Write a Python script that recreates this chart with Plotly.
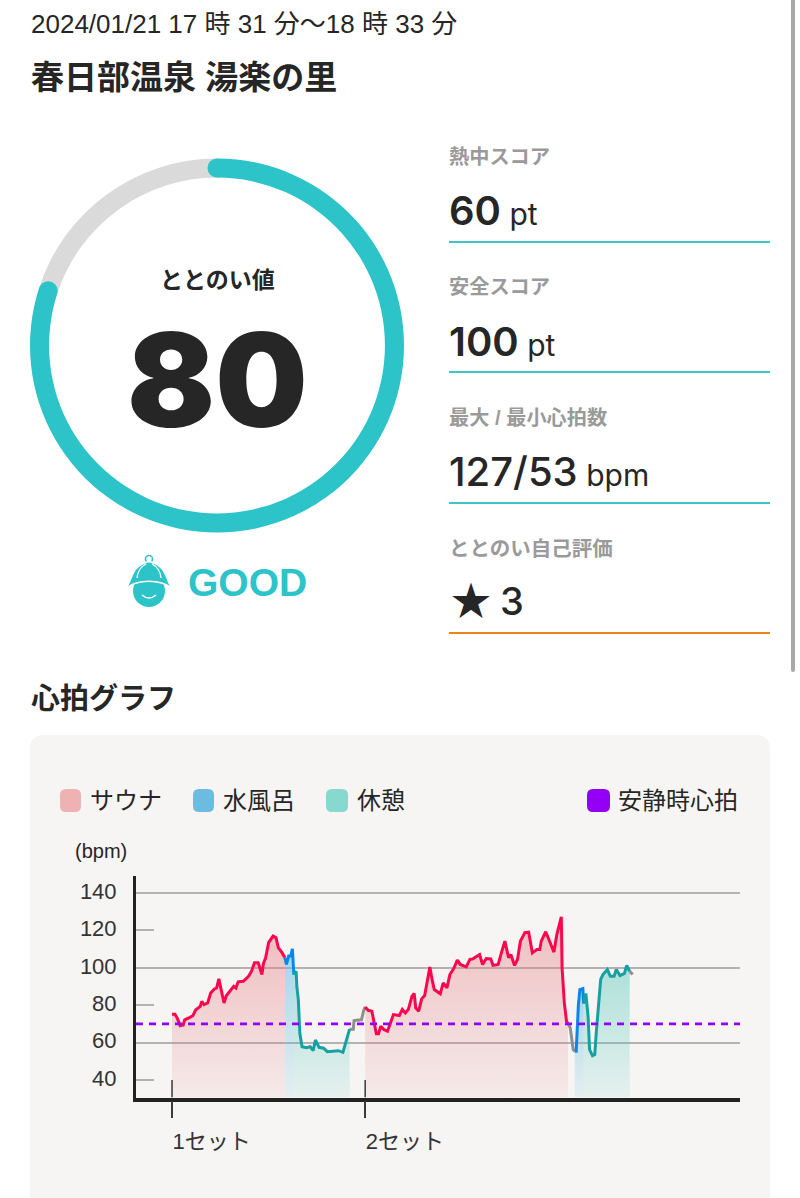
import math

import plotly.graph_objects as go

W, H = 800, 1198
FONT = "Liberation Sans, Noto Sans CJK JP, sans-serif"
NUM_FONT = "Inter, Liberation Sans, sans-serif"
INK = "#262626"
TEAL = "#2cc3c9"

# scores
SCORE = 80
SCORE_MAX = 100
RESTING_BPM = 70
STATS = [
    ("熱中スコア", "60", " pt"),
    ("安全スコア", "100", " pt"),
    ("最大 / 最小心拍数", "127/53", " bpm"),
]
SELF_RATING = "3"

# heart rate, minutes since 17:31
SAUNA1_MIN = [0.0, 0.4, 0.7, 1.1, 1.5, 1.7, 2.4, 2.8, 3.2, 3.8, 4.0, 4.3, 4.8, 5.2, 5.7, 6.0, 6.3, 6.6, 7.0,
              7.3, 7.8, 8.3, 8.6, 8.9, 9.6, 10.3, 10.7, 11.1, 11.6, 12.1, 12.3, 12.6, 13.0, 13.6, 14.0,
              14.3, 14.8, 15.2]
SAUNA1_BPM = [75.2, 75.2, 73.1, 69.1, 69.5, 72.2, 73.5, 74.4, 77.6, 79.4, 82.1, 80.3, 81.2, 86.5, 88.7, 89.2,
              94.1, 89.2, 81.2, 85.1, 87.4, 90.1, 89.2, 92.5, 92.8, 95.5, 98.2, 102.7, 102.7, 96.4, 102.3,
              105.4, 113.5, 117.0, 116.1, 110.8, 108.1, 105.4]
COLD1_MIN = [15.2, 15.4, 15.7, 16.0, 16.2, 16.4]
COLD1_BPM = [105.4, 101.8, 106.3, 106.3, 110.2, 96.4]
REST1_MIN = [16.4, 16.7, 16.8, 17.0, 17.2, 17.5, 18.1, 18.6, 19.0, 19.3, 19.8, 20.4, 20.9, 21.7, 22.4, 23.0,
             23.5, 23.9]
REST1_BPM = [96.4, 98.2, 90.1, 83.0, 65.0, 57.8, 57.3, 57.8, 55.7, 61.4, 57.5, 57.0, 55.2, 55.5, 55.7, 54.8,
             61.4, 67.2]
IDLE1_MIN = [23.9, 24.4, 24.5, 25.5, 25.8, 26.0]
IDLE1_BPM = [67.2, 67.2, 71.8, 72.2, 77.2, 79.1]
SAUNA2_MIN = [26.0, 26.4, 26.9, 27.2, 27.5, 27.8, 28.1, 28.5, 29.0, 29.4, 29.8, 30.6, 31.0, 31.4, 31.8, 32.3,
              32.6, 32.8, 33.2, 33.6, 34.0, 34.4, 34.7, 35.0, 35.3, 36.1, 36.5, 37.0, 37.4, 37.9, 38.4, 38.8,
              39.6, 40.1, 40.5, 41.4, 41.8, 42.3, 42.9, 43.2, 43.9, 44.4, 44.8, 45.3, 45.6, 46.1, 46.5, 46.9,
              47.5, 48.0, 48.5, 49.1, 49.5, 49.7, 50.3, 50.9, 51.4, 51.8, 52.1, 52.4, 52.5, 52.8, 53.1, 53.3]
SAUNA2_BPM = [79.1, 77.3, 76.8, 70.5, 64.8, 64.8, 68.8, 67.0, 66.1, 70.5, 75.0, 74.5, 77.7, 75.9, 77.7, 84.8,
              86.3, 78.6, 76.8, 83.4, 85.2, 93.8, 100.5, 93.8, 88.4, 86.1, 92.0, 89.3, 96.4, 99.5, 104.1, 101.8,
              100.5, 104.5, 104.8, 107.1, 101.8, 105.0, 104.8, 101.3, 101.8, 108.9, 114.3, 105.4, 107.1, 101.3,
              104.5, 114.3, 118.8, 119.1, 108.0, 109.8, 109.8, 114.3, 119.3, 113.4, 108.4, 117.9, 122.3, 127.3,
              100.0, 81.3, 71.4, 70.2]
IDLE2_MIN = [53.3, 53.6, 54.0, 54.2]
IDLE2_BPM = [70.2, 67.9, 56.3, 55.4]
COLD2_MIN = [54.2, 54.4, 54.7, 54.9, 55.3, 55.4]
COLD2_BPM = [55.4, 55.4, 80.4, 88.4, 88.9, 80.9]
REST2_MIN = [55.4, 55.7, 56.0, 56.2, 56.6, 56.9, 57.1, 57.4, 57.7, 58.0, 58.6, 59.0, 59.5, 59.8, 60.3, 60.9,
             61.2, 61.6]
REST2_BPM = [80.9, 86.3, 74.1, 56.3, 53.0, 53.6, 65.2, 81.3, 93.8, 96.4, 99.1, 95.5, 95.5, 99.1, 95.9, 97.0,
             101.3, 98.2]
IDLE3_MIN = [61.6, 62.0]
IDLE3_BPM = [98.2, 96.4]

SET_STARTS = [0.0, 26.0]
SET_LABELS = ["1セット", "2セット"]
Y_TICKS = [40, 60, 80, 100, 120, 140]
Y_GRID = [60, 100, 140]
X_RANGE = [-4.85, 76.45]
Y_RANGE = [30.67, 149.1]

SAUNA_LINE, COLD_LINE, REST_LINE, IDLE_LINE = "#f9084f", "#0a86ea", "#17a0a2", "#8f8f8f"
SAUNA_FILL = ("rgba(232,125,130,0.46)", "rgba(232,125,130,0.09)")
COLD_FILL = ("rgba(105,190,225,0.58)", "rgba(105,190,225,0.12)")
REST_FILL = ("rgba(85,200,185,0.46)", "rgba(85,200,185,0.10)")


def page_text(x, y, text, size, color=INK, anchor="left", bold=False, family=FONT, weight=None):
    font = dict(family=family, size=size, color=color)
    if weight:
        font["weight"] = weight
    return dict(
        x=x, y=y, xref="x", yref="y", text=f"<b>{text}</b>" if bold else text,
        showarrow=False, xanchor=anchor, yanchor="middle", borderpad=0, borderwidth=0, font=font,
    )


def rounded(x0, y0, x1, y1, r):
    return (f"M{x0+r},{y0} L{x1-r},{y0} Q{x1},{y0} {x1},{y0+r} L{x1},{y1-r} Q{x1},{y1} {x1-r},{y1} "
            f"L{x0+r},{y1} Q{x0},{y1} {x0},{y1-r} L{x0},{y0+r} Q{x0},{y0} {x0+r},{y0} Z")


def path_shape(path, color, layer="below"):
    return dict(type="path", xref="x", yref="y", path=path, fillcolor=color, line_width=0, layer=layer)


def area(minutes, bpm, colors):
    # closed polygon down to the axis, so the gradient stops at the axis
    return go.Scatter(
        x=minutes + [minutes[-1], minutes[0]], y=bpm + [Y_RANGE[0], Y_RANGE[0]],
        xaxis="x2", yaxis="y2", mode="none", fill="toself", hoverinfo="skip",
        fillgradient=dict(type="vertical", colorscale=[[0, colors[1]], [1, colors[0]]]),
    )


def hr_line(minutes, bpm, color):
    return go.Scatter(
        x=minutes, y=bpm, xaxis="x2", yaxis="y2", mode="lines",
        line=dict(color=color, width=3),
    )


fig = go.Figure()

# ring
fig.add_trace(go.Pie(
    values=[SCORE, SCORE_MAX - SCORE], sort=False, direction="clockwise", rotation=0, hole=0.898,
    marker=dict(colors=[TEAL, "#dadada"], line=dict(width=0)), textinfo="none", hoverinfo="skip",
    domain=dict(x=[30 / W, 404 / W], y=[1 - 533 / H, 1 - 158 / H]),
))

# heart rate chart
for m, b, c in [(SAUNA1_MIN, SAUNA1_BPM, SAUNA_FILL), (COLD1_MIN, COLD1_BPM, COLD_FILL),
                (REST1_MIN, REST1_BPM, REST_FILL), (SAUNA2_MIN, SAUNA2_BPM, SAUNA_FILL),
                (COLD2_MIN, COLD2_BPM, COLD_FILL), (REST2_MIN, REST2_BPM, REST_FILL)]:
    fig.add_trace(area(m, b, c))

for m, b, c in [(IDLE1_MIN, IDLE1_BPM, IDLE_LINE), (IDLE2_MIN, IDLE2_BPM, IDLE_LINE), (IDLE3_MIN, IDLE3_BPM, IDLE_LINE),
                (SAUNA1_MIN, SAUNA1_BPM, SAUNA_LINE), (COLD1_MIN, COLD1_BPM, COLD_LINE),
                (REST1_MIN, REST1_BPM, REST_LINE), (SAUNA2_MIN, SAUNA2_BPM, SAUNA_LINE),
                (COLD2_MIN, COLD2_BPM, COLD_LINE), (REST2_MIN, REST2_BPM, REST_LINE)]:
    fig.add_trace(hr_line(m, b, c))

fig.add_trace(go.Scatter(
    x=X_RANGE, y=[RESTING_BPM, RESTING_BPM], xaxis="x2", yaxis="y2", mode="lines",
    line=dict(color="#9400f5", width=2.8, dash="7px,6px"),
))

# set markers: upper part of the tick, above the x axis
for start in SET_STARTS:
    fig.add_trace(go.Scatter(
        x=[start, start], y=[40, Y_RANGE[0]], xaxis="x2", yaxis="y2", mode="lines",
        line=dict(color="#3a3a3a", width=1.5),
    ))

# page furniture
ring_cx, ring_cy, ring_r = 217, 345.5, 177.5
cap_r = 9.5
shapes = [
    path_shape(rounded(30, 735, 770, 1230, 14), "#f6f5f4"),
    path_shape(rounded(791, -4, 795, 672, 2), "#a8a8a8"),
]
for frac in [0, SCORE / SCORE_MAX]:
    ang = 2 * math.pi * frac
    cx = ring_cx + ring_r * math.sin(ang)
    cy = ring_cy - ring_r * math.cos(ang)
    shapes.append(dict(type="circle", xref="x", yref="y", x0=cx - cap_r, x1=cx + cap_r, y0=cy - cap_r, y1=cy + cap_r,
                       fillcolor=TEAL, line_width=0, layer="above"))

# hat mascot
shapes += [
    dict(type="circle", xref="x", yref="y", x0=133, x1=165, y0=575, y1=607, fillcolor=TEAL, line_width=0,
         layer="below"),
    dict(type="circle", xref="x", yref="y", x0=145.5, x1=152.5, y0=555.5, y1=562.5, fillcolor="rgba(0,0,0,0)",
         line=dict(color=TEAL, width=1.6), layer="below"),
    dict(type="path", xref="x", yref="y", fillcolor=TEAL, line=dict(color="white", width=1.4), layer="below",
         path="M126,588 C133,580 130,566 149,561.5 C168,566 165,580 172,588 C160,579 138,579 126,588 Z"),
    dict(type="path", xref="x", yref="y", path="M142,595 Q149,601 156,595", line=dict(color="white", width=1.5),
         layer="below"),
    dict(type="path", xref="x", yref="y", path="M137,578 Q138,568 146,564", line=dict(color="white", width=1.3),
         layer="below"),
    dict(type="path", xref="x", yref="y", path="M161,578 Q160,568 152,564", line=dict(color="white", width=1.3),
         layer="below"),
]

# stat rules
for y_rule, colour in [(242, "#42c3c6"), (372, "#42c3c6"), (503, "#42c3c6"), (633, "#ee8418")]:
    shapes.append(dict(type="line", xref="x", yref="y", x0=449, x1=770, y0=y_rule, y1=y_rule,
                       line=dict(color=colour, width=2), layer="below"))

# legend swatches
for x0, x1, colour in [(60, 81, "#eeb2b2"), (193, 214, "#6bbcdf"), (326, 348, "#87d8cf"), (587, 610, "#9400f5")]:
    shapes.append(path_shape(rounded(x0, 789, x1, 812, 6), colour))

annotations = [
    page_text(31, 24, "2024/01/21 17 時 31 分～18 時 33 分", 26),
    page_text(31, 77, "春日部温泉 湯楽の里", 33, bold=True),
    page_text(217, 280, "ととのい値", 23, anchor="center", bold=True),
    page_text(217, 379, "80", 130, anchor="center", family=NUM_FONT, weight=900),
    page_text(188, 582, "GOOD", 39, color=TEAL, bold=True),
    page_text(31, 699, "心拍グラフ", 29, bold=True),
    page_text(90, 800, "サウナ", 24),
    page_text(223, 800, "水風呂", 24),
    page_text(357, 800, "休憩", 24),
    page_text(618, 800, "安静時心拍", 24),
    page_text(75, 851, "(bpm)", 20),
    page_text(449, 548, "ととのい自己評価", 20.5, color="#9a9a9a", bold=True),
    page_text(451, 601, "★", 40),
    page_text(500, 601, SELF_RATING, 38, family=NUM_FONT, weight=500),
]
for (label, value, unit), y_label, y_value, wt in zip(STATS, [157, 287, 418], [210, 341, 471], [600, 600, 500]):
    annotations.append(page_text(449, y_label, label, 20.2, color="#9a9a9a", bold=True))
    annotations.append(page_text(
        449, y_value, f"{value}<span style='font-size:30px;font-weight:400'>{unit}</span>", 40,
        family=NUM_FONT, weight=wt,
    ))

fig.update_layout(
    width=W, height=H, margin=dict(l=0, r=0, t=0, b=0), autosize=False, showlegend=False,
    paper_bgcolor="white", plot_bgcolor="rgba(0,0,0,0)", shapes=shapes, annotations=annotations,
    # first axes are the whole page in pixels, for furniture only
    xaxis=dict(domain=[0, 1], range=[0, W], visible=False, fixedrange=True, anchor="y"),
    yaxis=dict(domain=[0, 1], range=[H, 0], visible=False, fixedrange=True, anchor="x"),
    xaxis2=dict(
        domain=[136 / W, 740 / W], range=X_RANGE, anchor="y2", showgrid=False, zeroline=False,
        showline=True, linecolor="#222222", linewidth=3.5, ticks="outside", ticklen=17, tickwidth=1.5,
        tickcolor="#3a3a3a", tickmode="array", tickvals=SET_STARTS, ticktext=SET_LABELS,
        ticklabelposition="outside right", ticklabelstandoff=21, ticklabelshift=-2,
        tickfont=dict(family=FONT, size=22, color="#333333"),
    ),
    yaxis2=dict(
        domain=[1 - 1097.5 / H, 1 - 876 / H], range=Y_RANGE, anchor="x2", showgrid=False, zeroline=False,
        showline=True, linecolor="#222222", linewidth=3, ticks="inside", ticklen=18, tickwidth=1.6,
        tickcolor="#b3b1b4", tickmode="array", tickvals=Y_TICKS, ticklabelstandoff=12, ticklabelshift=-2,
        tickfont=dict(family=FONT, size=22, color="#333333"),
        minor=dict(tickmode="array", tickvals=Y_GRID, showgrid=True, gridcolor="#b3b1b4", gridwidth=2, ticks=""),
    ),
)

fig.write_html(
    "out.html", config={"displayModeBar": False},
    post_script="document.body.style.margin='0';document.body.style.overflow='hidden';",
)
